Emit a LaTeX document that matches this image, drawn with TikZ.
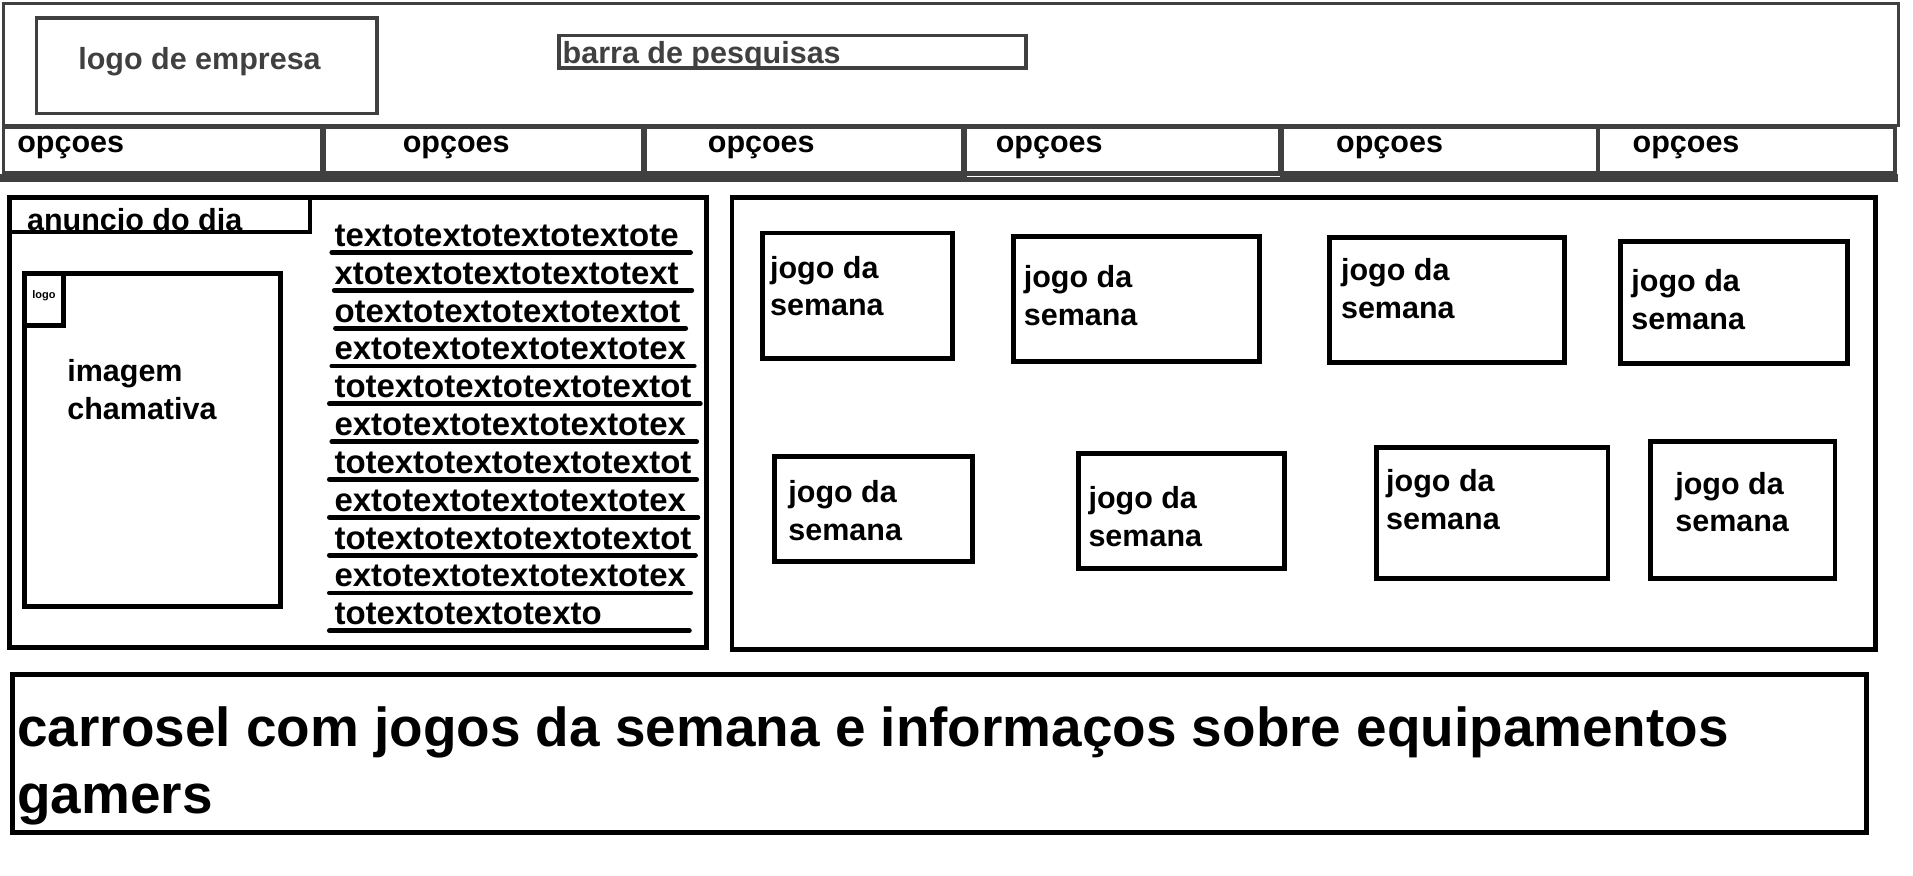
\documentclass[tikz,border=0pt]{standalone}
\usepackage{fontspec}
\setmainfont{Liberation Sans}
\definecolor{cinza}{HTML}{404040}
\tikzset{
  caixa/.style={line width=4pt},
  caixacinza/.style={draw=cinza,line width=3pt},
  rotulo/.style={font=\bfseries\fontsize{25}{30}\selectfont,inner sep=0pt,anchor=base west},
}
\begin{document}
\begin{tikzpicture}[x=1pt,y=-1pt]
\useasboundingbox (0,0) rectangle (1568,718);
% cabecalho
\draw[caixacinza] (3,3) rectangle (1556,103);
\draw[caixacinza] (30,15) rectangle (309,93);
\node[rotulo,text=cinza] (logoempresa) at (64,57) {logo de empresa};
\draw[caixacinza] (458,29) rectangle (841,56);
\node[rotulo,text=cinza] (pesquisa) at (461,52) {barra de pesquisas};
% menu
\foreach \xa/\xb/\tx [count=\i] in {3/264/14,266/527/330,529/789/580,791/1049/816,1051/1310/1095,1310/1553/1338}{
\draw[caixacinza] (\xa,104) rectangle (\xb,142);
\node[rotulo] (opcao\i) at (\tx,125) {opçoes};
}
\draw[cinza,line width=6pt] (0,146)--(1556,146);
\draw[white,line width=1pt] (793,144.5)--(1049,144.5);
% anuncio
\draw[caixa] (8,162) rectangle (579,531);
\draw[line width=3pt] (8,162) rectangle (254,190);
\node[rotulo] (anuncio) at (22,189) {anuncio do dia};
\draw[caixa] (20,224) rectangle (230,497);
\draw[caixa] (20,224) rectangle (52,267);
\node[font=\bfseries\fontsize{9}{9}\selectfont,inner sep=0pt] (logo) at (36,242) {logo};
\node[rotulo] (imagem) at (55,313) {imagem};
\node[rotulo] (chamativa) at (55,344) {chamativa};
\foreach \txt/\xa/\xb [count=\i] in {textotextotextotextote/272/566,xtotextotextotextotext/274/567,otextotextotextotextot/275/562,extotextotextotextotex/272/569,totextotextotextotextot/270/574,extotextotextotextotex/272/571,totextotextotextotextot/270/571,extotextotextotextotex/270/572,totextotextotextotextot/270/570,extotextotextotextotex/270/566,totextotextotexto/270/565}{
\node[rotulo,font=\bfseries\fontsize{27}{31}\selectfont] (linha\i) at (274,171+31*\i) {\txt};
\draw[line width=4pt,line cap=round] (\xa,176+31*\i)--(\xb,176+31*\i);
}
% jogos
\draw[caixa] (600,162) rectangle (1537,532);
\foreach \xa/\ya/\xb/\yb/\tx/\ty [count=\i] in {625/191/781/294/631/228,831/194/1032/296/839/236,1090/195/1282/297/1099/230,1328/198/1514/298/1337/239,635/374/797/460/646/412,884/372/1053/466/892/417,1128/367/1318/474/1136/403,1353/362/1504/474/1373/405}{
\draw[caixa] (\xa,\ya) rectangle (\xb,\yb);
\node[rotulo] (jogo\i) at (\tx,\ty) {jogo da};
\node[rotulo] (semana\i) at (\tx,\ty+31) {semana};
}
% carrosel
\draw[caixa] (10,553) rectangle (1530,682);
\node[rotulo,font=\bfseries\fontsize{45}{55}\selectfont] (carrosel) at (14,612) {carrosel com jogos da semana e informaços sobre equipamentos};
\node[rotulo,font=\bfseries\fontsize{45}{55}\selectfont] (gamers) at (14,667) {gamers};
\end{tikzpicture}
\end{document}
